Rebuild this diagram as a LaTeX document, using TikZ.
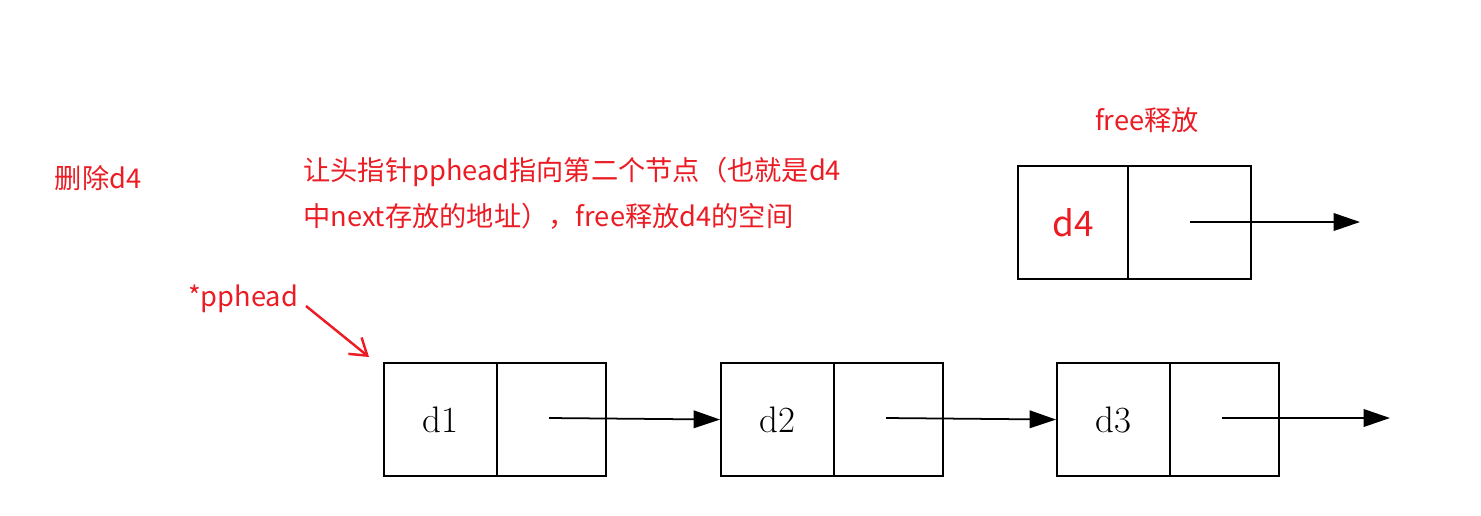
\documentclass[tikz,border=0pt]{standalone}
\usepackage{fontspec}
\newfontfamily\cjk{Noto Sans CJK SC}
\usetikzlibrary{arrows.meta}
\definecolor{rd}{RGB}{235,28,36}
\begin{document}
\begin{tikzpicture}[x=0.02cm,y=-0.02cm,
  cell/.style={draw,line width=1.2pt,minimum height=2.26cm,inner sep=0pt,anchor=north west,font=\fontsize{21}{23}\selectfont},
  lnk/.style={line width=1pt,-{Triangle[length=15pt,width=10pt]}},
  rt/.style={text=rd,font=\cjk\fontsize{15.5}{17}\selectfont,inner sep=0pt}]
\useasboundingbox (0,0) rectangle (1481,515);
\foreach \n/\x/\y/\lab in {d1/383/362/d1,d2/720/362/d2,d3/1056/362/d3}{
  \node[cell,minimum width=2.26cm] (\n a) at (\x,\y) {\lab};
  \node[cell,minimum width=2.18cm] (\n b) at (\x+113,\y) {};
}
\node[cell,minimum width=2.2cm,text=rd,font=\cjk\fontsize{20}{22}\selectfont] (d4a) at (1017,165) {d4};
\node[cell,minimum width=2.46cm] (d4b) at (1127,165) {};
\coordinate (e1) at (1390,418);
\coordinate (e4) at (1360,222);
\coordinate (s1) at (549,418);\coordinate (s2) at (886,418);\coordinate (s3) at (1222,418);\coordinate (s4) at (1190,222);
\draw[lnk] (s1) -- (d2a.west);
\draw[lnk] (s2) -- (d3a.west);
\draw[lnk] (s3) -- (e1);
\draw[lnk] (s4) -- (e4);
\node[rt] (t0) at (98,178) {删除d4};
\node[rt,anchor=west] (t1) at (303,172) {让头指针pphead指向第二个节点（也就是d4};
\node[rt,anchor=west] (t2) at (303,216) {中next存放的地址），free释放d4的空间};
\node[rt] (t3) at (1147,120) {free释放};
\node[rt] (ph) at (243,299) {*pphead};
\coordinate (pa) at (306,306);
\coordinate (pb) at (369,357);
\draw[rd,line width=1.4pt,-{Straight Barb[length=9pt,width=12pt]}] (pa) -- (pb);
\end{tikzpicture}
\end{document}
